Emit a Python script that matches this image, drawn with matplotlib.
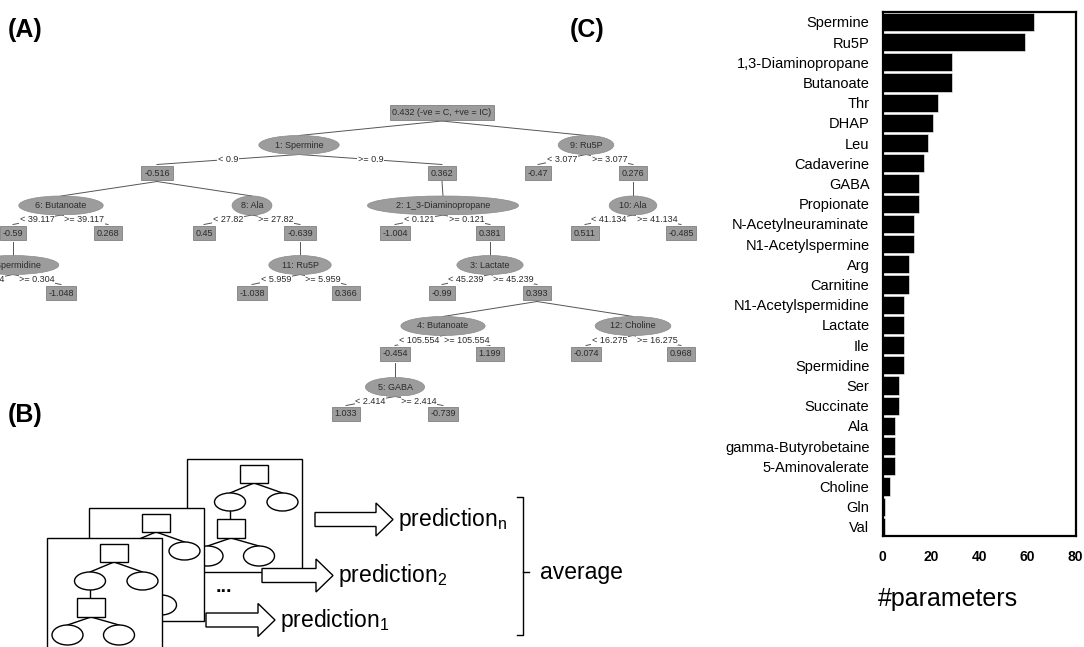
import matplotlib
matplotlib.use("Agg")
import matplotlib.pyplot as plt
from matplotlib.patches import Ellipse, Rectangle, FancyArrow

plt.rcParams['font.family'] = ['Liberation Sans', 'DejaVu Sans']
plt.rcParams['mathtext.fontset'] = 'custom'
plt.rcParams['mathtext.rm'] = 'Liberation Sans'

# ---- (C) number of parameters per metabolite ----
metabolites = ["Spermine", "Ru5P", "1,3-Diaminopropane", "Butanoate", "Thr", "DHAP",
               "Leu", "Cadaverine", "GABA", "Propionate", "N-Acetylneuraminate",
               "N1-Acetylspermine", "Arg", "Carnitine", "N1-Acetylspermidine", "Lactate",
               "Ile", "Spermidine", "Ser", "Succinate", "Ala", "gamma-Butyrobetaine",
               "5-Aminovalerate", "Choline", "Gln", "Val"]
n_params = [63, 59, 29, 29, 23, 21, 19, 17, 15, 15, 13, 13, 11, 11, 9, 9, 9, 9,
            7, 7, 5, 5, 5, 3, 1, 1]
x_ticks = [0, 20, 40, 60, 80]

# ---- (A) alternating decision tree ----
# prediction nodes: id -> value text (None = outside the picture)
pred_values = {
    "p0": "0.432 (-ve = C, +ve = IC)",
    "p1": "-0.516", "p2": "0.362", "p3": "-0.47", "p4": "0.276",
    "p5": "-0.59", "p6": "0.268", "p7": "0.45", "p8": "-0.639",
    "p13": "-1.004", "p14": "0.381", "p15": "0.511", "p16": "-0.485",
    "p9": None, "p10": "-1.048", "p11": "-1.038", "p12": "0.366",
    "p17": "-0.99", "p18": "0.393",
    "p19": "-0.454", "p20": "1.199", "p21": "-0.074", "p22": "0.968",
    "p23": "1.033", "p24": "-0.739",
}
# splitter nodes: number, feature, parent prediction, threshold, (< child, >= child)
splitters = [
    (1, "Spermine", "p0", "0.9", "p1", "p2"),
    (9, "Ru5P", "p0", "3.077", "p3", "p4"),
    (6, "Butanoate", "p1", "39.117", "p5", "p6"),
    (8, "Ala", "p1", "27.82", "p7", "p8"),
    (2, "1_3-Diaminopropane", "p2", "0.121", "p13", "p14"),
    (10, "Ala", "p4", "41.134", "p15", "p16"),
    (7, "Spermidine", "p5", "0.304", "p9", "p10"),
    (11, "Ru5P", "p8", "5.959", "p11", "p12"),
    (3, "Lactate", "p14", "45.239", "p17", "p18"),
    (4, "Butanoate", "p18", "105.554", "p19", "p20"),
    (12, "Choline", "p18", "16.275", "p21", "p22"),
    (5, "GABA", "p19", "2.414", "p23", "p24"),
]

# layout of the tree in pixels
pred_pos = {
    "p0": (442, 112.5),
    "p1": (157, 173), "p2": (442, 173), "p3": (538, 173), "p4": (633, 173),
    "p5": (13, 233), "p6": (108, 233), "p7": (204, 233), "p8": (300, 233),
    "p13": (395, 233), "p14": (490, 233), "p15": (585, 233), "p16": (681, 233),
    "p9": (-35, 293), "p10": (61, 293), "p11": (252, 293), "p12": (346, 293),
    "p17": (442, 293), "p18": (537, 293),
    "p19": (395, 354), "p20": (490, 354), "p21": (586, 354), "p22": (681, 354),
    "p23": (346, 414), "p24": (443, 414),
}
split_pos = {1: (299, 145), 9: (586, 145), 6: (61, 205.5), 8: (252, 205.5),
             2: (443, 205.5), 10: (633, 205.5), 7: (13, 265), 11: (300, 265),
             3: (490, 265), 4: (443, 326), 12: (633, 326), 5: (395, 387)}

W, H = 1084, 647
fig = plt.figure(figsize=(W / 100, H / 100), dpi=100)
bg = fig.add_axes([0, 0, 1, 1])
bg.set_xlim(0, W)
bg.set_ylim(H, 0)
bg.axis('off')
renderer = fig.canvas.get_renderer()

gray = '#9c9c9c'
txt_col = '#2b2b2b'
line_col = '#555555'
fs_tree = 6.5
box_half = 8.5
ell_h = 19

for num, feat, parent, thr, left, right in splitters:
    ex, ey = split_pos[num]
    px, py = pred_pos[parent]
    bg.plot([px, ex], [py + box_half, ey - ell_h / 2], color=line_col, lw=0.7, zorder=1)
    t = bg.text(ex, ey, f"{num}: {feat}", fontsize=fs_tree, color=txt_col,
                ha='center', va='center', zorder=4)
    tw = t.get_window_extent(renderer).width
    bg.add_patch(Ellipse((ex, ey), tw * 1.55 + 5, ell_h, fc=gray, ec='#8a8a8a',
                         lw=0.5, zorder=2))
    for child, sign in ((left, "< "), (right, ">= ")):
        cx, cy = pred_pos[child]
        x0, y0 = ex, ey + ell_h / 2
        x1, y1 = cx, cy - box_half
        bg.plot([x0, x1], [y0, y1], color=line_col, lw=0.7, zorder=1)
        bg.text((x0 + x1) / 2, (y0 + y1) / 2, sign + thr, fontsize=fs_tree,
                color=txt_col, ha='center', va='center', zorder=3,
                bbox=dict(boxstyle='square,pad=0.05', fc='white', ec='none'))

for pid, val in pred_values.items():
    if val is None:
        continue
    x, y = pred_pos[pid]
    bg.text(x, y, val, fontsize=fs_tree, color=txt_col, ha='center', va='center',
            zorder=4, bbox=dict(boxstyle='square,pad=0.3', fc=gray, ec='#808080', lw=0.6))

# ---- (B) random forest sketch ----
card_w, card_h = 115, 113


def draw_card(x0, y0, z):
    bg.add_patch(Rectangle((x0, y0), card_w, card_h, fc='white', ec='black', lw=1.0, zorder=z))
    k = dict(color='black', lw=1.0, zorder=z + 0.1)
    bg.add_patch(Rectangle((x0 + 53, y0 + 6), 28, 18, fc='white', ec='black', lw=1.0, zorder=z + 0.2))
    bg.plot([x0 + 67, x0 + 43], [y0 + 24, y0 + 34], **k)
    bg.plot([x0 + 67, x0 + 95.5], [y0 + 24, y0 + 34], **k)
    for cx in (43, 95.5):
        bg.add_patch(Ellipse((x0 + cx, y0 + 43), 31, 18, fc='white', ec='black', lw=1.0, zorder=z + 0.2))
    bg.plot([x0 + 43, x0 + 43], [y0 + 52, y0 + 60], **k)
    bg.add_patch(Rectangle((x0 + 30, y0 + 60), 28, 19, fc='white', ec='black', lw=1.0, zorder=z + 0.2))
    bg.plot([x0 + 44, x0 + 20.5], [y0 + 79, y0 + 87], **k)
    bg.plot([x0 + 44, x0 + 72], [y0 + 79, y0 + 87], **k)
    for cx in (20.5, 72):
        bg.add_patch(Ellipse((x0 + cx, y0 + 97), 31, 20, fc='white', ec='black', lw=1.0, zorder=z + 0.2))


draw_card(187, 459, 5)
draw_card(89, 508, 6)
draw_card(47, 538, 7)

arrows = [(315, 393, 519.5, "n"), (262, 333, 575.5, "2"), (206, 275, 620, "1")]
for i, (xa, xb, ya, sub) in enumerate(arrows):
    bg.add_patch(FancyArrow(xa, ya, xb - xa, 0, width=14, head_width=33, head_length=17,
                            length_includes_head=True, fc='white', ec='black', lw=1.0,
                            zorder=8 + i * 0.1))
    bg.text(xb + 5, ya, r"prediction$_\mathrm{" + sub + "}$", fontsize=16.5,
            ha='left', va='center', zorder=9)

bg.text(224, 588, "...", fontsize=14, fontweight='bold', ha='center', va='center', zorder=9)

# bracket
bg.plot([517, 523, 523, 517], [497, 497, 635, 635], color='black', lw=1.0)
bg.plot([523, 529], [572, 572], color='black', lw=1.0)
bg.text(540, 572, "average", fontsize=16.5, ha='left', va='center')

# panel letters
for lx, ly, lab in ((8, 29.5, "(A)"), (570, 29.5, "(C)"), (8, 415, "(B)")):
    bg.text(lx, ly, lab, fontsize=18, fontweight='bold', ha='left', va='center')

# ---- (C) bar chart ----
ax = fig.add_axes([882.5 / W, (H - 536) / H, 193 / W, 524.3 / H])
ypos = list(range(len(metabolites)))
ax.barh(ypos, n_params, height=0.9, color='black', edgecolor='white', linewidth=0.4)
ax.set_xlim(0, 80)
ax.set_ylim(len(metabolites) - 0.55, -0.5)
ax.set_yticks(ypos)
ax.set_yticklabels(metabolites, fontsize=10.5)
ax.set_xticks(x_ticks)
ax.set_xticklabels([str(v) for v in x_ticks], fontsize=10, fontweight='bold')
ax.tick_params(axis='y', length=0, pad=9.4)
ax.tick_params(axis='x', length=0, pad=10)
for s in ax.spines.values():
    s.set_linewidth(1.6)
bg.text(948, 599, "#parameters", fontsize=18, ha='center', va='center')

fig.savefig("out.png", dpi=100)
